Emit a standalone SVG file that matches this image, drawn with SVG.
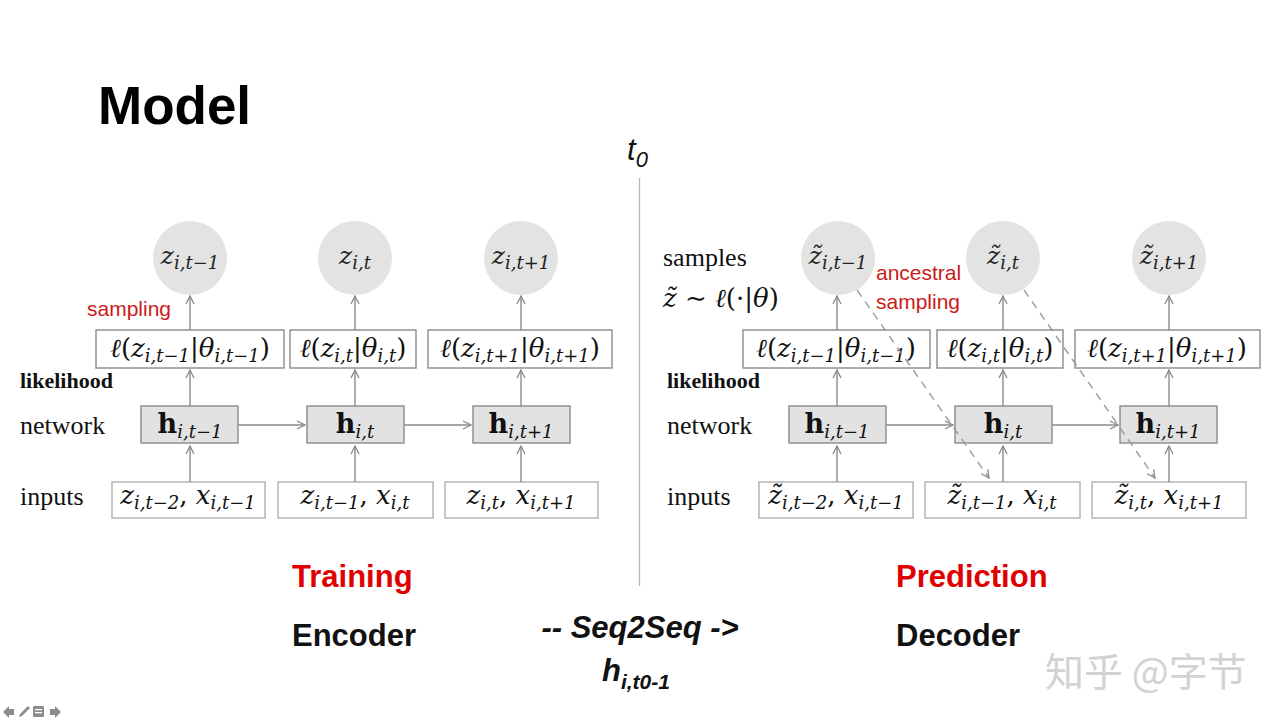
<svg xmlns="http://www.w3.org/2000/svg" width="1280" height="720" viewBox="0 0 1280 720">
<defs>
<marker id="ar" viewBox="0 0 10 10" refX="9" refY="5" markerWidth="10" markerHeight="10" markerUnits="userSpaceOnUse" orient="auto">
<path d="M1,1 L9,5 L1,9" fill="none" stroke="#8a8a8a" stroke-width="1.3"/>
</marker>
<style>
.bg{fill:#fff}
.circ{fill:#e3e3e3}
.lbox{fill:#fff;stroke:#8a8a8a;stroke-width:1.4}
.hbox{fill:#e2e2e2;stroke:#8a8a8a;stroke-width:1.4}
.ibox{fill:#fff;stroke:#b0b0b0;stroke-width:1.4}
.m{font-family:"DejaVu Serif","Liberation Serif",serif;font-style:italic;font-size:26px;fill:#111}
.mc{font-family:"DejaVu Serif","Liberation Serif",serif;font-style:italic;font-size:25px;fill:#222}
.s{font-size:18px}
.up{font-style:normal}
.hb{font-family:"DejaVu Serif",serif;font-weight:bold;font-size:27px;font-style:normal}
.lab{font-family:"Liberation Serif",serif;font-size:26px;fill:#111}
.likl{font-family:"Liberation Serif",serif;font-size:22px;font-weight:bold;fill:#111}
.red{font-family:"Liberation Sans",sans-serif;font-size:21px;fill:#cc1a1a}
.big{font-family:"Liberation Sans",sans-serif;font-size:31px;font-weight:bold}
.conn line{stroke:#8a8a8a;stroke-width:1.4;fill:none}
.conn .d{stroke:#9a9a9a;stroke-dasharray:8 6}
</style>
</defs>
<rect class="bg" x="0" y="0" width="1280" height="720"/>

<text x="98" y="124" font-family="Liberation Sans,sans-serif" font-weight="bold" font-size="53" fill="#000">Model</text>

<g id="t0">
<text x="627" y="160" font-family="Liberation Sans,sans-serif" font-style="italic" font-size="31" fill="#111">t<tspan font-size="22" dy="7">0</tspan></text>
<line x1="639.5" y1="178" x2="639.5" y2="586" stroke="#a9bccb" stroke-width="1.3"/>
</g>

<!-- LEFT DIAGRAM -->
<g id="left-labels">
<text class="red" x="87" y="316">sampling</text>
<text class="likl" x="20" y="388">likelihood</text>
<text class="lab" x="20" y="434">network</text>
<text class="lab" x="20" y="505">inputs</text>
</g>

<g id="lz1"><circle class="circ" cx="190" cy="258" r="37"/><text class="mc" x="190" y="264" text-anchor="middle">z<tspan class="s" dy="5">i,t−1</tspan></text></g>
<g id="lz2"><circle class="circ" cx="355" cy="258" r="37"/><text class="mc" x="355" y="264" text-anchor="middle">z<tspan class="s" dy="5">i,t</tspan></text></g>
<g id="lz3"><circle class="circ" cx="521" cy="258" r="37"/><text class="mc" x="521" y="264" text-anchor="middle">z<tspan class="s" dy="5">i,t+1</tspan></text></g>

<g id="ll1"><rect class="lbox" x="96" y="330" width="188" height="38"/><text class="m" x="190" y="357" text-anchor="middle">ℓ<tspan class="up">(</tspan>z<tspan class="s" dy="5">i,t−1</tspan><tspan class="up" dy="-5">|</tspan>θ<tspan class="s" dy="5">i,t−1</tspan><tspan class="up" dy="-5">)</tspan></text></g>
<g id="ll2"><rect class="lbox" x="290" y="330" width="126" height="38"/><text class="m" x="353" y="357" text-anchor="middle">ℓ<tspan class="up">(</tspan>z<tspan class="s" dy="5">i,t</tspan><tspan class="up" dy="-5">|</tspan>θ<tspan class="s" dy="5">i,t</tspan><tspan class="up" dy="-5">)</tspan></text></g>
<g id="ll3"><rect class="lbox" x="428" y="330" width="184" height="38"/><text class="m" x="520" y="357" text-anchor="middle">ℓ<tspan class="up">(</tspan>z<tspan class="s" dy="5">i,t+1</tspan><tspan class="up" dy="-5">|</tspan>θ<tspan class="s" dy="5">i,t+1</tspan><tspan class="up" dy="-5">)</tspan></text></g>

<g id="lh1"><rect class="hbox" x="141" y="406" width="97" height="37"/><text class="m" x="190" y="433" text-anchor="middle"><tspan class="hb">h</tspan><tspan class="s" dy="5">i,t−1</tspan></text></g>
<g id="lh2"><rect class="hbox" x="307" y="406" width="97" height="37"/><text class="m" x="355" y="433" text-anchor="middle"><tspan class="hb">h</tspan><tspan class="s" dy="5">i,t</tspan></text></g>
<g id="lh3"><rect class="hbox" x="473" y="406" width="97" height="37"/><text class="m" x="521" y="433" text-anchor="middle"><tspan class="hb">h</tspan><tspan class="s" dy="5">i,t+1</tspan></text></g>

<g id="li1"><rect class="ibox" x="112" y="482" width="153" height="36"/><text class="m" x="188" y="504" text-anchor="middle">z<tspan class="s" dy="5">i,t−2</tspan><tspan class="up" dy="-5">, </tspan>x<tspan class="s" dy="5">i,t−1</tspan></text></g>
<g id="li2"><rect class="ibox" x="278" y="482" width="155" height="36"/><text class="m" x="355" y="504" text-anchor="middle">z<tspan class="s" dy="5">i,t−1</tspan><tspan class="up" dy="-5">, </tspan>x<tspan class="s" dy="5">i,t</tspan></text></g>
<g id="li3"><rect class="ibox" x="445" y="482" width="153" height="36"/><text class="m" x="521" y="504" text-anchor="middle">z<tspan class="s" dy="5">i,t</tspan><tspan class="up" dy="-5">, </tspan>x<tspan class="s" dy="5">i,t+1</tspan></text></g>

<!-- RIGHT DIAGRAM -->
<g id="right-labels">
<text class="lab" x="663" y="266">samples</text>
<text class="m" x="663" y="307">z̃ <tspan class="up">∼</tspan> ℓ<tspan class="up">(·|</tspan>θ<tspan class="up">)</tspan></text>
<text class="red" x="876" y="280">ancestral</text>
<text class="red" x="876" y="309">sampling</text>
<text class="likl" x="667" y="388">likelihood</text>
<text class="lab" x="667" y="434">network</text>
<text class="lab" x="667" y="505">inputs</text>
</g>

<g id="rz1"><circle class="circ" cx="838" cy="258" r="37"/><text class="mc" x="838" y="264" text-anchor="middle">z̃<tspan class="s" dy="5">i,t−1</tspan></text></g>
<g id="rz2"><circle class="circ" cx="1003" cy="258" r="37"/><text class="mc" x="1003" y="264" text-anchor="middle">z̃<tspan class="s" dy="5">i,t</tspan></text></g>
<g id="rz3"><circle class="circ" cx="1169" cy="258" r="37"/><text class="mc" x="1169" y="264" text-anchor="middle">z̃<tspan class="s" dy="5">i,t+1</tspan></text></g>

<g id="rl1"><rect class="lbox" x="743" y="330" width="187" height="38"/><text class="m" x="836" y="357" text-anchor="middle">ℓ<tspan class="up">(</tspan>z<tspan class="s" dy="5">i,t−1</tspan><tspan class="up" dy="-5">|</tspan>θ<tspan class="s" dy="5">i,t−1</tspan><tspan class="up" dy="-5">)</tspan></text></g>
<g id="rl2"><rect class="lbox" x="937" y="330" width="126" height="38"/><text class="m" x="1000" y="357" text-anchor="middle">ℓ<tspan class="up">(</tspan>z<tspan class="s" dy="5">i,t</tspan><tspan class="up" dy="-5">|</tspan>θ<tspan class="s" dy="5">i,t</tspan><tspan class="up" dy="-5">)</tspan></text></g>
<g id="rl3"><rect class="lbox" x="1075" y="330" width="185" height="38"/><text class="m" x="1167" y="357" text-anchor="middle">ℓ<tspan class="up">(</tspan>z<tspan class="s" dy="5">i,t+1</tspan><tspan class="up" dy="-5">|</tspan>θ<tspan class="s" dy="5">i,t+1</tspan><tspan class="up" dy="-5">)</tspan></text></g>

<g id="rh1"><rect class="hbox" x="789" y="406" width="97" height="37"/><text class="m" x="837" y="433" text-anchor="middle"><tspan class="hb">h</tspan><tspan class="s" dy="5">i,t−1</tspan></text></g>
<g id="rh2"><rect class="hbox" x="955" y="406" width="97" height="37"/><text class="m" x="1003" y="433" text-anchor="middle"><tspan class="hb">h</tspan><tspan class="s" dy="5">i,t</tspan></text></g>
<g id="rh3"><rect class="hbox" x="1120" y="406" width="97" height="37"/><text class="m" x="1168" y="433" text-anchor="middle"><tspan class="hb">h</tspan><tspan class="s" dy="5">i,t+1</tspan></text></g>

<g id="ri1"><rect class="ibox" x="759" y="482" width="154" height="36"/><text class="m" x="836" y="504" text-anchor="middle">z̃<tspan class="s" dy="5">i,t−2</tspan><tspan class="up" dy="-5">, </tspan>x<tspan class="s" dy="5">i,t−1</tspan></text></g>
<g id="ri2"><rect class="ibox" x="925" y="482" width="155" height="36"/><text class="m" x="1002" y="504" text-anchor="middle">z̃<tspan class="s" dy="5">i,t−1</tspan><tspan class="up" dy="-5">, </tspan>x<tspan class="s" dy="5">i,t</tspan></text></g>
<g id="ri3"><rect class="ibox" x="1092" y="482" width="154" height="36"/><text class="m" x="1169" y="504" text-anchor="middle">z̃<tspan class="s" dy="5">i,t</tspan><tspan class="up" dy="-5">, </tspan>x<tspan class="s" dy="5">i,t+1</tspan></text></g>

<g id="connectors" class="conn">
<line x1="190" y1="330" x2="190" y2="296" marker-end="url(#ar)"/>
<line x1="355" y1="330" x2="355" y2="296" marker-end="url(#ar)"/>
<line x1="521" y1="330" x2="521" y2="296" marker-end="url(#ar)"/>
<line x1="190" y1="406" x2="190" y2="370" marker-end="url(#ar)"/>
<line x1="355" y1="406" x2="355" y2="370" marker-end="url(#ar)"/>
<line x1="521" y1="406" x2="521" y2="370" marker-end="url(#ar)"/>
<line x1="190" y1="482" x2="190" y2="446" marker-end="url(#ar)"/>
<line x1="355" y1="482" x2="355" y2="446" marker-end="url(#ar)"/>
<line x1="521" y1="482" x2="521" y2="446" marker-end="url(#ar)"/>
<line x1="238" y1="425" x2="305" y2="425" marker-end="url(#ar)"/>
<line x1="404" y1="425" x2="471" y2="425" marker-end="url(#ar)"/>

<line x1="837" y1="330" x2="837" y2="296" marker-end="url(#ar)"/>
<line x1="1003" y1="330" x2="1003" y2="296" marker-end="url(#ar)"/>
<line x1="1169" y1="330" x2="1169" y2="296" marker-end="url(#ar)"/>
<line x1="837" y1="406" x2="837" y2="370" marker-end="url(#ar)"/>
<line x1="1003" y1="406" x2="1003" y2="370" marker-end="url(#ar)"/>
<line x1="1169" y1="406" x2="1169" y2="370" marker-end="url(#ar)"/>
<line x1="837" y1="482" x2="837" y2="446" marker-end="url(#ar)"/>
<line x1="1003" y1="482" x2="1003" y2="446" marker-end="url(#ar)"/>
<line x1="1169" y1="482" x2="1169" y2="446" marker-end="url(#ar)"/>
<line x1="886" y1="425" x2="953" y2="425" marker-end="url(#ar)"/>
<line x1="1052" y1="425" x2="1118" y2="425" marker-end="url(#ar)"/>

<line class="d" x1="857" y1="290" x2="989" y2="478" marker-end="url(#ar)"/>
<line class="d" x1="1024" y1="290" x2="1155" y2="478" marker-end="url(#ar)"/>
</g>

<g id="captions">
<text class="big" x="292" y="587" fill="#e00000">Training</text>
<text class="big" x="292" y="646" fill="#111">Encoder</text>
<text class="big" x="896" y="587" fill="#e00000">Prediction</text>
<text class="big" x="896" y="646" fill="#111">Decoder</text>
<text class="big" x="640" y="638" text-anchor="middle" font-style="italic" fill="#111">-- Seq2Seq -&gt;</text>
<text class="big" x="602" y="681" font-style="italic" fill="#111">h<tspan font-size="21" dy="8">i,t0-1</tspan></text>
</g>

<g id="toolbar" fill="#8c8c8c">
<path d="M3,712 L9,706 L9,709 L14,709 L14,715 L9,715 L9,718 Z"/>
<path d="M19,717 L20,714 L28,706 L30,708 L22,716 Z"/>
<rect x="33" y="706" width="11" height="11" rx="1"/>
<rect x="35" y="709" width="7" height="1.3" fill="#fff"/>
<rect x="35" y="712" width="7" height="1.3" fill="#fff"/>
<path d="M61,712 L55,706 L55,709 L50,709 L50,715 L55,715 L55,718 Z"/>
</g>

<text x="1045" y="686" font-family="Noto Sans CJK SC,sans-serif" font-size="39" fill="#d2d2d2">知乎 @字节</text>
</svg>
